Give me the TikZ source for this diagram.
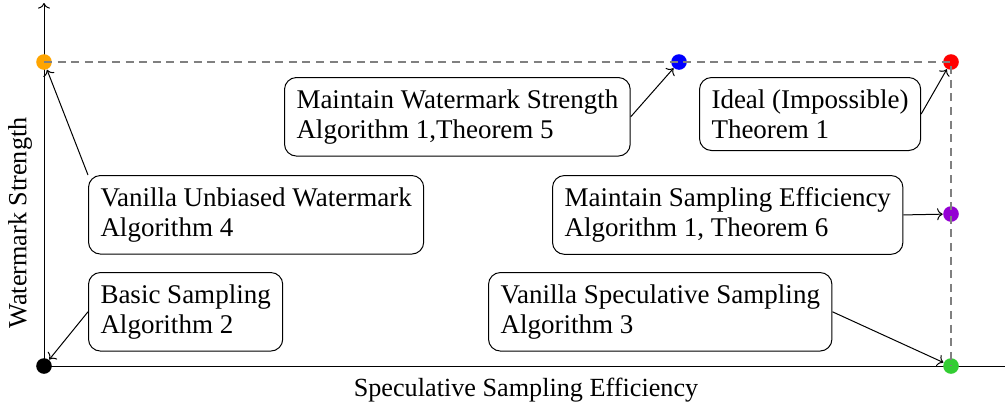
\documentclass[tikz,border=0pt]{standalone}
\usepackage{fontspec}
\setmainfont{Liberation Serif}
\usetikzlibrary{arrows.meta}
\definecolor{dotorange}{RGB}{255,165,0}
\definecolor{dotgreen}{RGB}{50,205,50}
\definecolor{dotpurple}{RGB}{148,0,211}
\begin{document}
\begin{tikzpicture}[x=0.5pt,y=-0.5pt,line width=0.5pt,
  >={To[length=2.8pt,width=6pt]},
  infobox/.style={draw,rounded corners=6pt,align=left,inner sep=6pt,font=\fontsize{13.5}{15}\selectfont,anchor=north west},
  dot/.style={circle,fill=#1,inner sep=0pt,minimum size=7.8pt},
  guide/.style={dash pattern=on 4pt off 2.8pt,gray,line width=0.8pt},
  lbl/.style={font=\fontsize{13.1}{15}\selectfont}]
\useasboundingbox (0,0) rectangle (1005,408);
% axes
\coordinate (O) at (44,366);
\coordinate (ytop) at (44,3);
\coordinate (xend) at (1012,366);
\draw[->] (O) -- (ytop);
\draw[->] (O) -- (xend);
% dots
\node[dot=black] (pblack) at (44,366) {};
\node[dot=dotorange] (porange) at (44,62) {};
\node[dot=blue] (pblue) at (679,62) {};
\node[dot=red] (pred) at (951,62) {};
\node[dot=dotpurple] (ppurple) at (951,214) {};
\node[dot=dotgreen] (pgreen) at (951,366) {};
% dashed guides
\draw[guide] (porange.center) -- (pred.center) -- (pgreen.center);
% boxes
\node[infobox] (mws) at (284,77) {Maintain Watermark Strength\\Algorithm 1,Theorem 5};
\node[infobox] (ideal) at (699,77) {Ideal (Impossible)\\Theorem 1};
\node[infobox] (vuw) at (88,175) {Vanilla Unbiased Watermark\\Algorithm 4};
\node[infobox] (mse) at (552,175) {Maintain Sampling Efficiency\\Algorithm 1, Theorem 6};
\node[infobox] (basic) at (88,272) {Basic Sampling\\Algorithm 2};
\node[infobox] (vss) at (488,272) {Vanilla Speculative Sampling\\Algorithm 3};
% connectors
\draw[->] (mws.east) -- (pblue);
\draw[->] (ideal.east) -- (pred);
\draw[->] (vuw.north west) -- (porange);
\draw[->] (mse.east) -- (ppurple);
\draw[->] (basic.west) -- (pblack);
\draw[->] (vss.east) -- (pgreen);
% axis labels
\node[lbl,rotate=90] (ylab) at (20,223) {Watermark Strength};
\node[lbl] (xlab) at (526,390) {Speculative Sampling Efficiency};
\end{tikzpicture}
\end{document}
